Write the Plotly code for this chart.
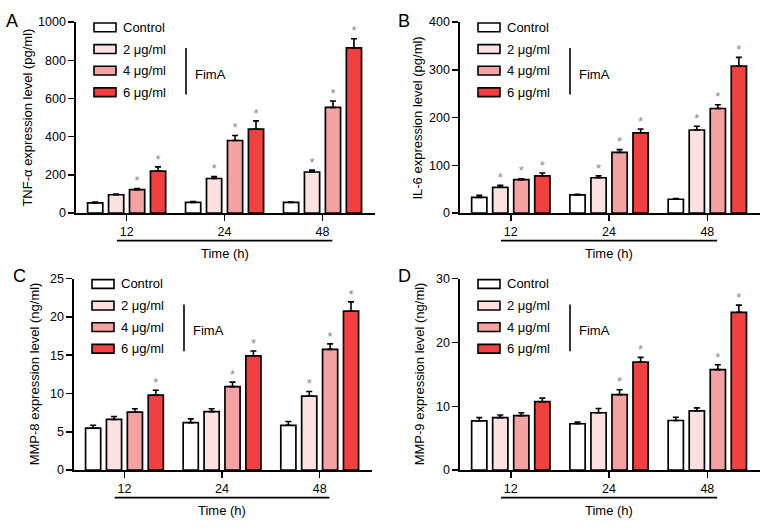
import plotly.graph_objects as go

# ---------------- data ----------------
time_labels = ["12", "24", "48"]
series_names = ["Control", "2 μg/ml", "4 μg/ml", "6 μg/ml"]
series_colors = ["#ffffff", "#fde0e0", "#f5a2a2", "#f0403f"]

# Panel A: TNF-α (pg/ml)  rows = series, cols = time
tnf_mean = [[53, 56, 56], [96, 181, 215], [123, 380, 553], [220, 440, 865]]
tnf_err = [[5, 5, 2], [4, 10, 10], [5, 26, 34], [22, 43, 48]]
tnf_sig = [[0, 0, 0], [0, 1, 1], [1, 1, 1], [1, 1, 1]]

# Panel B: IL-6 (pg/ml)
il6_mean = [[33, 38, 29], [54, 74, 174], [70, 127, 219], [78, 168, 308]]
il6_err = [[4, 1.5, 1.5], [4, 4, 8], [2, 6, 8], [6, 8, 18]]
il6_sig = [[0, 0, 0], [1, 1, 1], [1, 1, 1], [1, 1, 1]]

# Panel C: MMP-8 (ng/ml)
mmp8_mean = [[5.47, 6.19, 5.85], [6.61, 7.63, 9.66], [7.58, 10.89, 15.76], [9.79, 14.9, 20.76]]
mmp8_err = [[0.38, 0.5, 0.5], [0.38, 0.37, 0.6], [0.42, 0.6, 0.72], [0.63, 0.65, 1.2]]
mmp8_sig = [[0, 0, 0], [0, 0, 1], [0, 1, 1], [1, 1, 1]]

# Panel D: MMP-9 (ng/ml)
mmp9_mean = [[7.72, 7.26, 7.77], [8.22, 8.98, 9.29], [8.53, 11.83, 15.74], [10.71, 16.9, 24.72]]
mmp9_err = [[0.5, 0.25, 0.5], [0.42, 0.66, 0.46], [0.45, 0.76, 0.76], [0.56, 0.76, 1.12]]
mmp9_sig = [[0, 0, 0], [0, 0, 0], [0, 1, 1], [0, 1, 1]]

panel_letters = ["A", "B", "C", "D"]
y_titles = ["TNF-α expression level (pg/ml)", "IL-6 expression level (pg/ml)",
            "MMP-8 expression level (ng/ml)", "MMP-9 expression level (ng/ml)"]
y_max = [1000, 400, 25, 30]
y_dtick = [200, 100, 5, 10]
x_title = "Time (h)"
legend_group_label = "FimA"

# ---------------- layout geometry (pixels) ----------------
W, H = 765, 528
FONT = "Liberation Sans, Arial, Helvetica, sans-serif"
panels = [
    dict(left=76, right=375, top=15.5, bottom=211.7, letter=(12, 14), ytitle_x=28),
    dict(left=460, right=760, top=15.5, bottom=211.7, letter=(404, 14), ytitle_x=418),
    dict(left=74, right=372, top=279, bottom=475.7, letter=(19, 276), ytitle_x=34),
    dict(left=460, right=760, top=279, bottom=475.7, letter=(404, 276), ytitle_x=419),
]
means = [tnf_mean, il6_mean, mmp8_mean, mmp9_mean]
errs = [tnf_err, il6_err, mmp8_err, mmp9_err]
sigs = [tnf_sig, il6_sig, mmp8_sig, mmp9_sig]

x_range = [-0.517, 2.536]
bar_pitch = 0.214
bar_width = 0.155


def px(x):
    return x / W


def py(y):
    return 1 - y / H


fig = go.Figure()
layout = dict(
    width=W, height=H, margin=dict(l=0, r=0, t=0, b=0),
    paper_bgcolor="white", plot_bgcolor="white",
    showlegend=False, barmode="overlay",
    font=dict(family=FONT, size=13, color="black"),
)
shapes = []
annotations = []

for p, geo in enumerate(panels):
    xa = "x" if p == 0 else f"x{p+1}"
    ya = "y" if p == 0 else f"y{p+1}"
    xkey = "xaxis" if p == 0 else f"xaxis{p+1}"
    ykey = "yaxis" if p == 0 else f"yaxis{p+1}"
    layout[xkey] = dict(
        domain=[px(geo["left"]), px(geo["right"])], range=x_range, anchor=ya,
        tickmode="array", tickvals=list(range(len(time_labels))), ticktext=time_labels,
        showline=True, linecolor="black", linewidth=1.6,
        ticks="outside", ticklen=6, tickwidth=1.5, tickcolor="black",
        showgrid=False, zeroline=False, fixedrange=True,
        tickfont=dict(size=12.5),
    )
    layout[ykey] = dict(
        domain=[py(geo["bottom"]), py(geo["top"])], range=[0, y_max[p]], anchor=xa,
        dtick=y_dtick[p], tick0=0,
        showline=True, linecolor="black", linewidth=1.6,
        ticks="outside", ticklen=6, tickwidth=1.5, tickcolor="black",
        showgrid=False, zeroline=False, fixedrange=True,
        tickfont=dict(size=12.5),
    )
    for i in range(len(series_names)):
        off = (i - 1.5) * bar_pitch
        xs = [g + off for g in range(len(time_labels))]
        fig.add_trace(go.Bar(
            x=xs, y=means[p][i], width=bar_width, xaxis=xa, yaxis=ya,
            marker=dict(color=series_colors[i], line=dict(color="black", width=1.7)),
            error_y=dict(type="data", symmetric=False, array=errs[p][i],
                         arrayminus=[0] * len(time_labels), color="black",
                         thickness=1.6, width=3),
            name=series_names[i],
        ))
        sx = [xs[g] for g in range(len(time_labels)) if sigs[p][i][g]]
        sy = [means[p][i][g] + errs[p][i][g] for g in range(len(time_labels)) if sigs[p][i][g]]
        if sx:
            fig.add_trace(go.Scatter(
                x=sx, y=sy, mode="text", text=["*"] * len(sx), textposition="top center",
                textfont=dict(size=13, color="#8a8a8a", family=FONT),
                xaxis=xa, yaxis=ya, cliponaxis=False, hoverinfo="skip",
            ))

    L, T, B = geo["left"], geo["top"], geo["bottom"]
    annotations.append(dict(text=panel_letters[p], x=px(geo["letter"][0]), y=py(geo["letter"][1]),
                            xref="paper", yref="paper", showarrow=False,
                            xanchor="center", yanchor="middle", font=dict(size=18)))
    annotations.append(dict(text=y_titles[p], x=px(geo["ytitle_x"]), y=py((T + B) / 2),
                            xref="paper", yref="paper", showarrow=False, textangle=-90,
                            xanchor="center", yanchor="middle", font=dict(size=13)))
    shapes.append(dict(type="line", xref=xa, yref="paper", x0=-0.1, x1=2.1,
                       y0=py(B + 28.3), y1=py(B + 28.3), line=dict(color="black", width=1.6)))
    annotations.append(dict(text=x_title, x=1.0, y=py(B + 41.5), xref=xa, yref="paper",
                            showarrow=False, xanchor="center", yanchor="middle", font=dict(size=13)))
    for i, name in enumerate(series_names):
        cy = T + 5.5 + 22.2 * i
        shapes.append(dict(type="rect", xref="paper", yref="paper",
                           x0=px(L + 18), x1=px(L + 40), y0=py(cy + 4.5), y1=py(cy - 4.5),
                           fillcolor=series_colors[i], line=dict(color="black", width=1.6)))
        annotations.append(dict(text=name, x=px(L + 45), y=py(cy), xref="paper", yref="paper",
                                showarrow=False, xanchor="left", yanchor="middle", font=dict(size=13)))
    shapes.append(dict(type="line", xref="paper", yref="paper",
                       x0=px(L + 110), x1=px(L + 110), y0=py(T + 26.5), y1=py(T + 74.5),
                       line=dict(color="black", width=1.6)))
    annotations.append(dict(text=legend_group_label, x=px(L + 117), y=py(T + 53.5),
                            xref="paper", yref="paper", showarrow=False,
                            xanchor="left", yanchor="middle", font=dict(size=13)))

layout["shapes"] = shapes
layout["annotations"] = annotations
fig.update_layout(**layout)

# remove the default 8px page margin so the 765x528 figure fills the window exactly
page_fix = "document.body.style.margin='0';document.body.style.overflow='hidden';"
fig.write_html("out.html", post_script=page_fix,
               config={"displayModeBar": False, "staticPlot": True})
